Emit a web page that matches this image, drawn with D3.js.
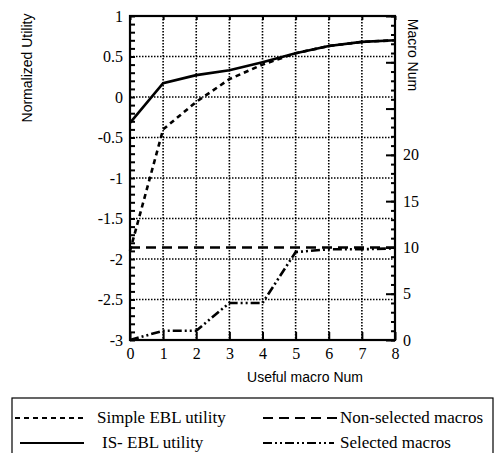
<!DOCTYPE html>
<html>
<head>
<meta charset="utf-8">
<script src="https://cdn.jsdelivr.net/npm/d3@7"></script>
<style>
  body { margin: 0; background: #fff; }
  svg { display: block; }
  .tick text { font-family: "Liberation Serif", "Times New Roman", serif; font-size: 16px; fill: #000; }
  .axis path { display: none; }
  .axis line { stroke: #000; stroke-width: 2; }
  .title { font-family: "Liberation Sans", Arial, sans-serif; font-size: 14px; fill: #000; }
  .legend text { font-family: "Liberation Serif", "Times New Roman", serif; font-size: 17px; fill: #000; }
</style>
</head>
<body>
<svg id="chart" width="504" height="453"></svg>
<script>
// data
var usefulNum = [0, 1, 2, 3, 4, 5, 6, 7, 8];
var simpleEbl = [-1.9, -0.4, -0.06, 0.22, 0.4, 0.54, 0.63, 0.68, 0.7];
var isEbl = [-0.32, 0.17, 0.27, 0.33, 0.43, 0.54, 0.63, 0.68, 0.7];
var nonSelected = [10, 10, 10, 10, 10, 10, 10, 10, 10];
var selected = [0, 1, 1, 4, 4, 9.5, 9.8, 9.8, 9.9];

var leftTicks = [-3, -2.5, -2, -1.5, -1, -0.5, 0, 0.5, 1];
var rightTicks = [0, 5, 10, 15, 20];

var svg = d3.select("#chart");
var margin = {top: 16, left: 130},
    width = 265,
    height = 324;

var x = d3.scaleLinear().domain([0, 8]).range([0, width]);
var yLeft = d3.scaleLinear().domain([-3, 1]).range([height, 0]);
var yRight = d3.scaleLinear().domain([0, 35]).range([height, 0]);

var g = svg.append("g")
    .attr("transform", "translate(" + margin.left + "," + margin.top + ")");

// dotted grid
g.append("g").selectAll("line")
  .data(d3.range(1, 8))
  .enter().append("line")
    .attr("x1", function(d) { return x(d); })
    .attr("x2", function(d) { return x(d); })
    .attr("y1", 0).attr("y2", height)
    .attr("stroke", "#000").attr("stroke-width", 1.6)
    .attr("stroke-dasharray", "1.5,1.5");

g.append("g").selectAll("line")
  .data(leftTicks.slice(1, -1))
  .enter().append("line")
    .attr("x1", 0).attr("x2", width)
    .attr("y1", function(d) { return yLeft(d); })
    .attr("y2", function(d) { return yLeft(d); })
    .attr("stroke", "#000").attr("stroke-width", 1.6)
    .attr("stroke-dasharray", "1.5,1.5");

// ticks pointing inside the frame
g.append("g").attr("class", "axis")
  .call(d3.axisRight(yLeft).tickValues(d3.range(-30, 11).map(function(d) { return d / 10; }))
    .tickSize(5).tickFormat(""));

g.append("g").attr("class", "axis")
  .call(d3.axisLeft(yLeft).tickValues(leftTicks).tickSize(0).tickPadding(7)
    .tickFormat(function(d) { return String(d); }));

g.append("g").attr("class", "axis")
  .attr("transform", "translate(0," + height + ")")
  .call(d3.axisTop(x).ticks(8).tickSize(8).tickFormat(""));

g.append("g").attr("class", "axis")
  .attr("transform", "translate(0," + height + ")")
  .call(d3.axisBottom(x).ticks(8).tickSize(0).tickPadding(8));

g.append("g").attr("class", "axis")
  .call(d3.axisBottom(x).ticks(8).tickSize(4).tickFormat(""));

g.append("g").attr("class", "axis")
  .attr("transform", "translate(" + width + ",0)")
  .call(d3.axisLeft(yRight).tickValues(d3.range(0, 36)).tickSize(4).tickFormat(""));

g.append("g").attr("class", "axis")
  .attr("transform", "translate(" + width + ",0)")
  .call(d3.axisLeft(yRight).tickValues([0, 5, 10, 15, 20, 25, 30, 35]).tickSize(9).tickFormat(""));

g.append("g").attr("class", "axis")
  .attr("transform", "translate(" + width + ",0)")
  .call(d3.axisRight(yRight).tickValues(rightTicks).tickSize(0).tickPadding(8));

// frame
g.append("rect")
  .attr("width", width).attr("height", height)
  .attr("fill", "none").attr("stroke", "#000").attr("stroke-width", 2.2);

// series
var lineLeft = d3.line()
  .x(function(d, i) { return x(usefulNum[i]); })
  .y(function(d) { return yLeft(d); });
var lineRight = d3.line()
  .x(function(d, i) { return x(usefulNum[i]); })
  .y(function(d) { return yRight(d); });

var series = [
  {vals: nonSelected, line: lineRight, dash: "10,6"},
  {vals: selected, line: lineRight, dash: "9,3,2,3,2,3"},
  {vals: simpleEbl, line: lineLeft, dash: "5,4"},
  {vals: isEbl, line: lineLeft, dash: null}
];

g.selectAll(".series")
  .data(series)
  .enter().append("path")
    .attr("class", "series")
    .attr("d", function(d) { return d.line(d.vals); })
    .attr("fill", "none")
    .attr("stroke", "#000")
    .attr("stroke-width", 2.6)
    .attr("stroke-dasharray", function(d) { return d.dash; });

// axis titles
svg.append("text").attr("class", "title")
  .attr("transform", "translate(32,68) rotate(-90)")
  .attr("text-anchor", "middle")
  .text("Normalized Utility");

svg.append("text").attr("class", "title")
  .attr("transform", "translate(408,55) rotate(90)")
  .attr("text-anchor", "middle")
  .text("Macro Num");

svg.append("text").attr("class", "title")
  .attr("x", 305).attr("y", 382)
  .attr("text-anchor", "middle")
  .text("Useful macro Num");

// legend
var legend = svg.append("g").attr("class", "legend");
legend.append("rect")
  .attr("x", 12).attr("y", 398).attr("width", 481).attr("height", 60)
  .attr("fill", "none").attr("stroke", "#000").attr("stroke-width", 1.2);

var legendItems = [
  {label: "Simple EBL utility", dash: "5,4", x1: 15, x2: 86, tx: 97, y: 418},
  {label: "IS- EBL utility", dash: null, x1: 20, x2: 84, tx: 102, y: 443},
  {label: "Non-selected macros", dash: "10,6", x1: 263, x2: 337, tx: 340, y: 418},
  {label: "Selected macros", dash: "9,3,2,3,2,3", x1: 263, x2: 334, tx: 340, y: 443}
];

legendItems.forEach(function(d) {
  legend.append("line")
    .attr("x1", d.x1).attr("x2", d.x2)
    .attr("y1", d.y).attr("y2", d.y)
    .attr("stroke", "#000").attr("stroke-width", 2)
    .attr("stroke-dasharray", d.dash);
  legend.append("text")
    .attr("x", d.tx).attr("y", d.y + 5)
    .text(d.label);
});
</script>
</body>
</html>
